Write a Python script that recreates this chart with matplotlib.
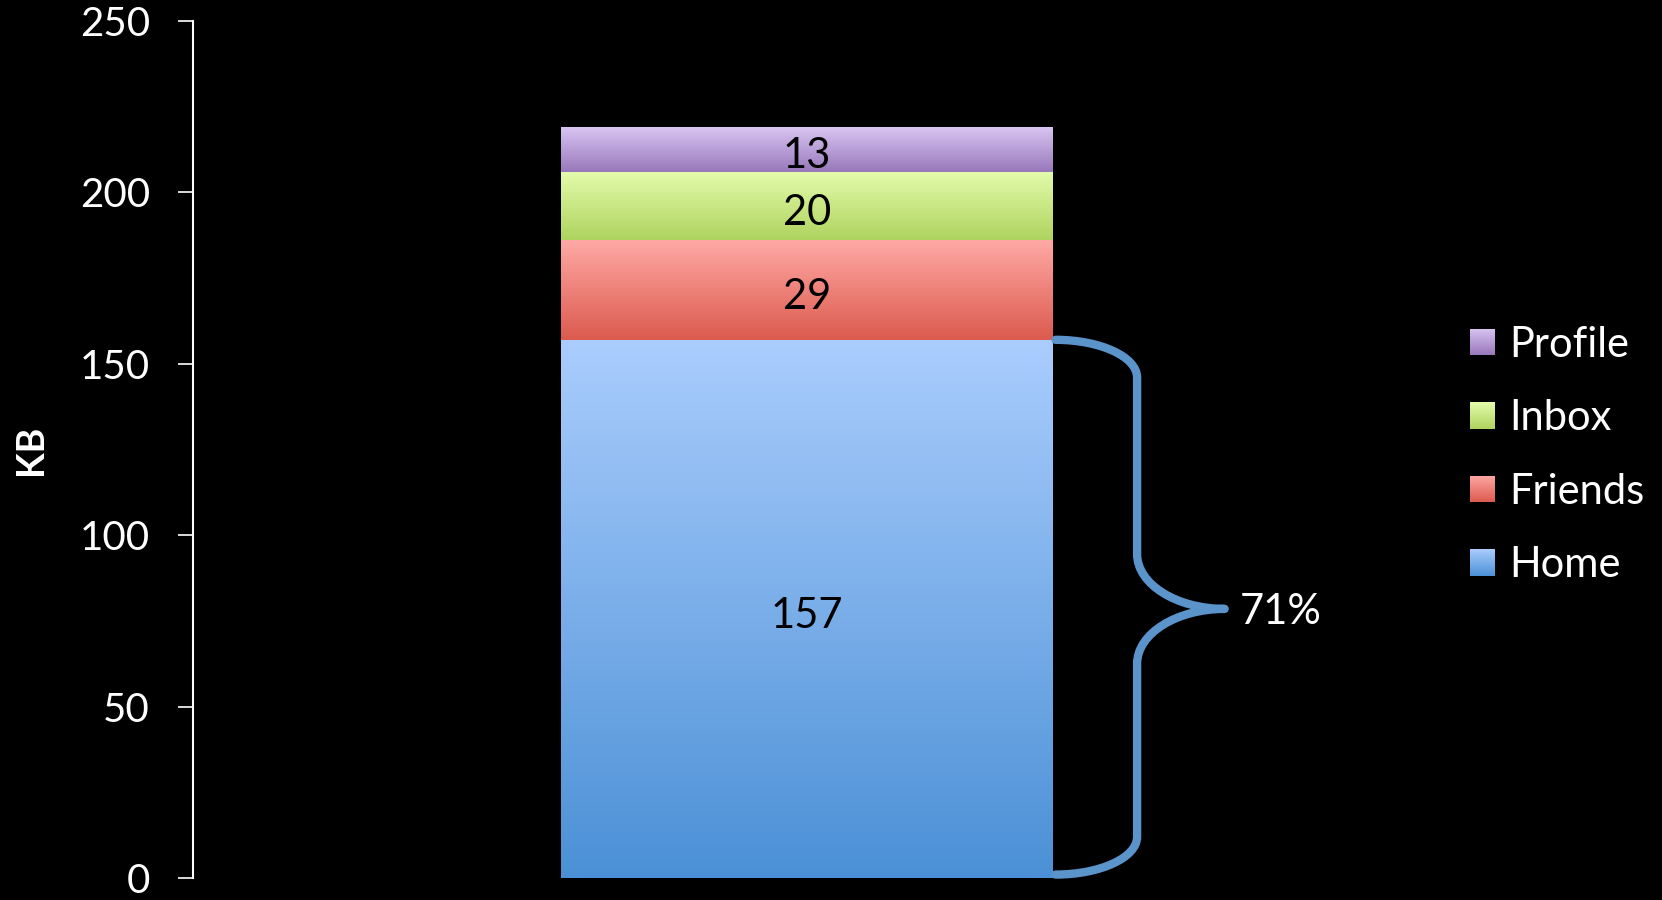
import numpy as np
import matplotlib
matplotlib.use("Agg")
import matplotlib.pyplot as plt
import matplotlib.transforms as mtransforms
from matplotlib.colors import LinearSegmentedColormap
from matplotlib.path import Path
from matplotlib.patches import PathPatch

plt.rcParams['font.family'] = ['Lato', 'DejaVu Sans']

# page sizes in KB, stacked bottom to top
pages = ["Home", "Friends", "Inbox", "Profile"]
sizes = [157, 29, 20, 13]
# (top colour, bottom colour) of each gradient
grad_top = ["#aacdfd", "#ffa9a5", "#e4fcac", "#d9c5f3"]
grad_bot = ["#4b90d6", "#dc5a4e", "#afd35f", "#9878bb"]
yticks = [0, 50, 100, 150, 200, 250]
share_label = "71%"

W, H = 1662, 900
fig = plt.figure(figsize=(W / 100, H / 100), dpi=100, facecolor="black")
ax = fig.add_axes([193 / W, 1 - 878 / H, (1450 - 193) / W, (878 - 21) / H])
ax.set_facecolor("black")


def gradient(c_top, c_bot):
    return LinearSegmentedColormap.from_list("g", [c_bot, c_top])


grad = np.linspace(0, 1, 256).reshape(-1, 1)
bottoms = np.concatenate([[0], np.cumsum(sizes)[:-1]])
bars = ax.bar([0] * len(sizes), sizes, width=1.0, bottom=bottoms,
              color=grad_bot, linewidth=0)
# nudge numbers down a little so they sit like the original font
nudge = mtransforms.offset_copy(ax.transData, fig=fig, x=0, y=-5, units="points")
for b, bot, val, ct, cb in zip(bars, bottoms, sizes, grad_top, grad_bot):
    im = ax.imshow(grad, extent=(-0.5, 0.5, bot, bot + val), origin="lower",
                   aspect="auto", cmap=gradient(ct, cb), zorder=2)
    im.set_clip_path(b)
    ax.text(0, bot + val / 2, str(val), ha="center", va="center",
            fontsize=30, color="black", zorder=3, transform=nudge)

# curly brace beside the Home segment
home = sizes[0]
x0, xs, xt = 0.505, 0.671, 0.849
ym = home / 2
k = 0.55
r_top = 11
r_mid = 16
verts = [
    (x0, home),
    (x0 + k * (xs - x0), home), (xs, home - r_top + k * r_top), (xs, home - r_top),
    (xs, ym + r_mid),
    (xs, ym + r_mid - k * r_mid), (xt - k * (xt - xs), ym), (xt, ym),
    (xt - k * (xt - xs), ym), (xs, ym - r_mid + k * r_mid), (xs, ym - r_mid),
    (xs, r_top + 1),
    (xs, r_top + 1 - k * r_top), (x0 + k * (xs - x0), 1), (x0, 1),
]
codes = ([Path.MOVETO] + [Path.CURVE4] * 3 + [Path.LINETO] + [Path.CURVE4] * 3
         + [Path.CURVE4] * 3 + [Path.LINETO] + [Path.CURVE4] * 3)
ax.add_patch(PathPatch(Path(verts, codes), fill=False, edgecolor="#5b93cb",
                       linewidth=6, capstyle="round", joinstyle="round",
                       clip_on=False, zorder=4))
ax.text(xt + 0.03, ym - 1, share_label, ha="left", va="center",
        fontsize=30, color="white")

ax.set_xlim(-1.248, 1.307)
ax.set_ylim(0, 250)
ax.set_yticks(yticks)
ax.set_xticks([])
for s in ["top", "right", "bottom"]:
    ax.spines[s].set_visible(False)
ax.spines["left"].set_color("white")
ax.spines["left"].set_linewidth(1.5)
ax.tick_params(axis="y", colors="white", labelsize=29, length=11,
               width=1.2, pad=20)
ax.set_ylabel("KB", color="white", fontsize=27, fontweight="bold")
ax.yaxis.set_label_coords(-0.115, 0.5)

leg = fig.legend(bars[::-1], pages[::-1], loc="center left",
                 bbox_to_anchor=(1432 / W, 1 - 455 / H), frameon=False,
                 fontsize=30, handlelength=0.6, handleheight=0.6,
                 handletextpad=0.35, labelspacing=0.85, labelcolor="white")

# swap the flat legend swatches for gradient ones
fig.canvas.draw()
for patch, ct, cb in zip(leg.get_patches(), grad_top[::-1], grad_bot[::-1]):
    bb = patch.get_window_extent().transformed(fig.transFigure.inverted())
    sw = fig.add_axes([bb.x0, bb.y0, bb.width, bb.height])
    sw.imshow(grad, origin="lower", aspect="auto", cmap=gradient(ct, cb))
    sw.set_axis_off()
    patch.set_visible(False)

fig.savefig("out.png", dpi=100, facecolor="black")
